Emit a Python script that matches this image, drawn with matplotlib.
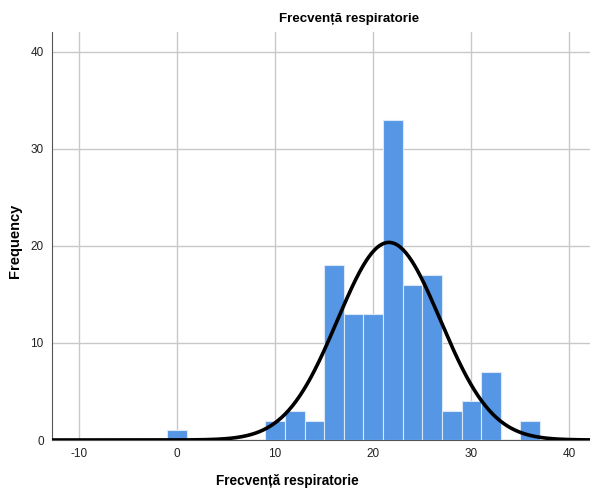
"""SPSS-style histogram with normal curve"""
import numpy as np
import matplotlib
matplotlib.use('Agg')
import matplotlib.pyplot as plt

plt.rcParams['font.family'] = ['Liberation Sans', 'DejaVu Sans']
plt.rcParams['axes.unicode_minus'] = False

# bin left edges (width 2) and counts
BIN_LEFT = [-1, 9, 11, 13, 15, 17, 19, 21, 23, 25, 27, 29, 31, 35]
COUNTS = [1, 2, 3, 2, 18, 13, 13, 33, 16, 17, 3, 4, 7, 2]
BIN_W = 2
MEAN = 21.6
SD = 5.25
TITLE = 'Frecvență respiratorie'

fig = plt.figure(figsize=(5.9, 4.9), dpi=100)
ax = fig.add_axes([52/590, 1 - 440/490, 1 - 52/590, (440 - 32)/490])

ax.bar(BIN_LEFT, COUNTS, width=BIN_W, align='edge', color='#5596e5',
       edgecolor='#dbe8f8', linewidth=0.8, zorder=3)

n = sum(COUNTS)
xs = np.linspace(-13, 43, 600)
ys = n * BIN_W / (SD * np.sqrt(2 * np.pi)) * np.exp(-0.5 * ((xs - MEAN) / SD) ** 2)
ax.plot(xs, ys, color='black', lw=2.6, zorder=4, solid_capstyle='butt')

ax.set_xlim(-12.75, 42.1)
ax.set_ylim(0, 42.05)
ax.set_xticks([-10, 0, 10, 20, 30, 40])
ax.set_yticks([0, 10, 20, 30, 40])
ax.grid(True, color='#c8c8c8', lw=1, zorder=0)
ax.set_axisbelow(True)
ax.tick_params(length=0, labelsize=8.5, pad=6, colors='#222222')
for s in ['top', 'right']:
    ax.spines[s].set_visible(False)
ax.spines['left'].set_color('#555555')
ax.spines['bottom'].set_color('#555555')

fig.text(349/590, 1 - 19/490, TITLE, ha='center', va='center',
         fontsize=9.6, fontweight='bold')
fig.text(287/590, 1 - 481/490, TITLE, ha='center', va='center',
         fontsize=9.8, fontweight='bold')
fig.text(15/590, 1 - 241/490, 'Frequency', ha='center', va='center',
         rotation=90, fontsize=10.5, fontweight='bold')

fig.savefig('out.png', dpi=100)
